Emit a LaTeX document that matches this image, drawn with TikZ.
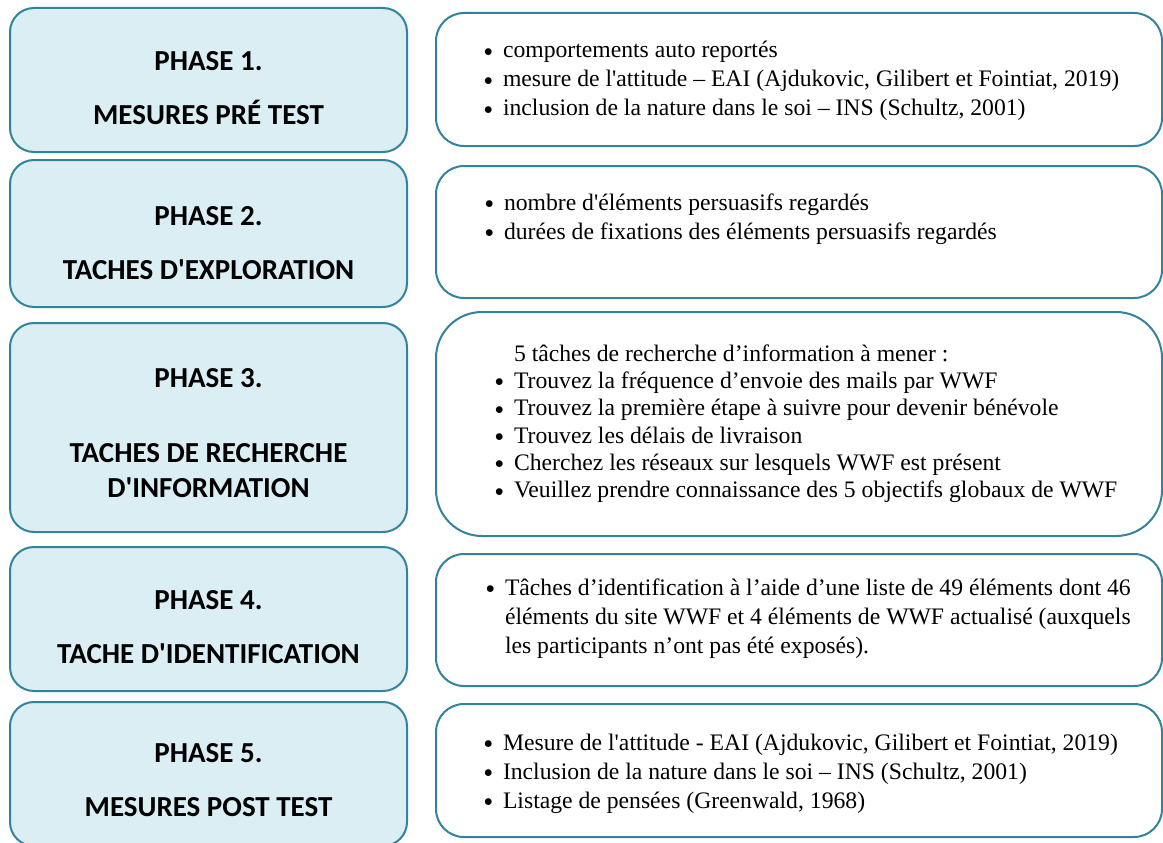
\documentclass[tikz,border=0pt]{standalone}
\usepackage{fontspec}
\usepackage{graphicx}
\setmainfont{Liberation Serif}
\newfontfamily\calibri{Carlito}
\definecolor{tealline}{HTML}{31849B}
\definecolor{aquawash}{HTML}{DAEEF3}
\newcommand{\puce}{\llap{\makebox[22pt][c]{\raisebox{-2.6pt}{\scalebox{1.2}{\textbullet}}}}}
\newcommand{\apos}{\textquotesingle}

\begin{document}
\begin{tikzpicture}[
  x=0.75pt, y=-0.75pt,
  every node/.style={inner sep=0pt, outer sep=0pt},
  phasebox/.style={draw=tealline, fill=aquawash, line width=1.5pt, rounded corners=18pt, minimum width=297.75pt, minimum height=108pt},
  detailbox/.style={draw=tealline, fill=white, line width=1.5pt, rounded corners=21pt, minimum width=544.5pt, minimum height=99.75pt},
  phasetext/.style={anchor=base, font=\calibri\bfseries\fontsize{21.75pt}{26.25pt}\selectfont},
  detailtext/.style={anchor=base west, font=\fontsize{17.75pt}{21.75pt}\selectfont}
]
\useasboundingbox (0,0) rectangle (1163,842);

% left column: the five phases
\node[phasebox] (ph1) at (208.5,80) {};
\node[phasebox, minimum height=110.25pt] (ph2) at (208.5,233.5) {};
\node[phasebox, minimum height=156.75pt] (ph3) at (208.5,427.5) {};
\node[phasebox] (ph4) at (208.5,619) {};
\node[phasebox] (ph5) at (208.5,774) {};

\node[phasetext] (ph1t) at (208.5,70) {\begin{tabular}[t]{@{}c@{}}PHASE 1.\\[14.25pt] MESURES PRÉ TEST\end{tabular}};
\node[phasetext] (ph2t) at (208.5,225) {\begin{tabular}[t]{@{}c@{}}PHASE 2.\\[14.25pt] TACHES D\apos EXPLORATION\end{tabular}};
\node[phasetext] (ph3t) at (208.5,387) {\begin{tabular}[t]{@{}c@{}}PHASE 3.\\[30pt] TACHES DE RECHERCHE\\ D\apos INFORMATION\end{tabular}};
\node[phasetext] (ph4t) at (208.5,609) {\begin{tabular}[t]{@{}c@{}}PHASE 4.\\[14.25pt] TACHE D\apos IDENTIFICATION\end{tabular}};
\node[phasetext] (ph5t) at (208.5,762) {\begin{tabular}[t]{@{}c@{}}PHASE 5.\\[14.25pt] MESURES POST TEST\end{tabular}};

% right column: what is measured in each phase
\node[detailbox] (det1) at (799,79.5) {};
\node[detailbox, minimum height=99pt] (det2) at (799,232) {};
\node[detailbox, minimum height=168pt, rounded corners=34.5pt] (det3) at (799,424) {};
\node[detailbox, minimum height=99pt] (det4) at (799,620) {};
\node[detailbox] (det5) at (799,770.5) {};

\node[detailtext] (det1t) at (503,58) {\begin{tabular}[t]{@{}l@{}}
  \puce comportements auto reportés\\
  \puce mesure de l\apos attitude – EAI (Ajdukovic, Gilibert et Fointiat, 2019)\\
  \puce inclusion de la nature dans le soi – INS (Schultz, 2001)\end{tabular}};
\node[detailtext] (det2t) at (504,210) {\begin{tabular}[t]{@{}l@{}}
  \puce nombre d\apos éléments persuasifs regardés\\
  \puce durées de fixations des éléments persuasifs regardés\end{tabular}};
\node[detailtext, font=\fontsize{17.75pt}{20.5pt}\selectfont] (det3t) at (514,361) {\begin{tabular}[t]{@{}l@{}}
  5 tâches de recherche d’information à mener :\\
  \puce Trouvez la fréquence d’envoie des mails par WWF\\
  \puce Trouvez la première étape à suivre pour devenir bénévole\\
  \puce Trouvez les délais de livraison\\
  \puce Cherchez les réseaux sur lesquels WWF est présent\\
  \puce Veuillez prendre connaissance des 5 objectifs globaux de WWF\end{tabular}};
\node[detailtext] (det4t) at (505,595) {\begin{tabular}[t]{@{}l@{}}
  \puce Tâches d’identification à l’aide d’une liste de 49 éléments dont 46\\
  éléments du site WWF et 4 éléments de WWF actualisé (auxquels\\
  les participants n’ont pas été exposés).\end{tabular}};
\node[detailtext] (det5t) at (503,750) {\begin{tabular}[t]{@{}l@{}}
  \puce Mesure de l\apos attitude - EAI (Ajdukovic, Gilibert et Fointiat, 2019)\\
  \puce Inclusion de la nature dans le soi – INS (Schultz, 2001)\\
  \puce Listage de pensées (Greenwald, 1968)\end{tabular}};
\end{tikzpicture}
\end{document}
